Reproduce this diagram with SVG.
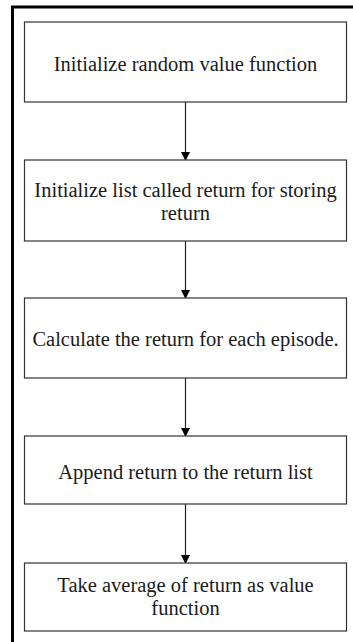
<svg xmlns="http://www.w3.org/2000/svg" width="353" height="642" viewBox="0 0 353 642">
  <style>
    .box { fill: #ffffff; stroke: #333333; stroke-width: 1.2; }
    .label { font-family: "Liberation Serif", "Times New Roman", serif; font-size: 20.5px; fill: #1a1a1a; text-anchor: middle; }
    .edge { stroke: #222222; stroke-width: 1.2; fill: none; marker-end: url(#arrow); }
    .frame { stroke: #000000; stroke-width: 3; fill: none; }
  </style>
  <defs>
    <marker id="arrow" markerWidth="10" markerHeight="10" refX="8" refY="4.5" orient="auto" markerUnits="userSpaceOnUse">
      <path d="M0,0 L9,4.5 L0,9 Z" fill="#000000"/>
    </marker>
  </defs>
  <rect width="353" height="642" fill="#ffffff"/>

  <!-- outer frame (open on right and bottom) -->
  <path class="frame" d="M12.5,642 L12.5,7 L353,7"/>

  <g id="edges">
    <line class="edge" x1="185.5" y1="102" x2="185.5" y2="160"/>
    <line class="edge" x1="185.5" y1="241" x2="185.5" y2="298"/>
    <line class="edge" x1="185.5" y1="378" x2="185.5" y2="436"/>
    <line class="edge" x1="185.5" y1="504" x2="185.5" y2="563"/>
  </g>

  <g id="n1">
    <rect class="box" x="24.5" y="22" width="322" height="80"/>
    <text class="label" x="185.5" y="71">Initialize random value function</text>
  </g>
  <g id="n2">
    <rect class="box" x="24.5" y="160" width="322" height="81"/>
    <text class="label" x="185.5" y="196.5">Initialize list called return for storing</text>
    <text class="label" x="185.5" y="219.5">return</text>
  </g>
  <g id="n3">
    <rect class="box" x="24.5" y="298" width="322" height="80"/>
    <text class="label" x="185.5" y="346">Calculate the return for each episode.</text>
  </g>
  <g id="n4">
    <rect class="box" x="24.5" y="436" width="322" height="68"/>
    <text class="label" x="185.5" y="478.5">Append return to the return list</text>
  </g>
  <g id="n5">
    <rect class="box" x="24.5" y="563" width="322" height="68"/>
    <text class="label" x="185.5" y="591.5">Take average of return as value</text>
    <text class="label" x="185.5" y="615">function</text>
  </g>
</svg>
